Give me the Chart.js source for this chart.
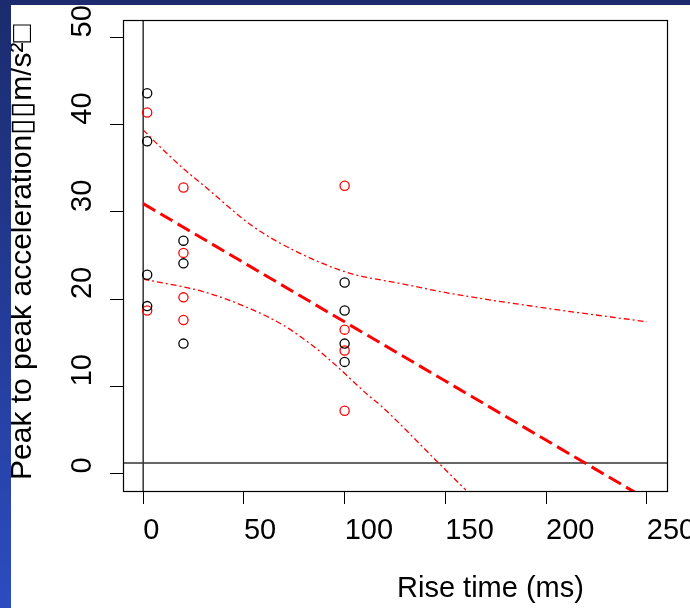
<!DOCTYPE html>
<html lang="en">
<head>
<meta charset="UTF-8">
<title>Rise time vs peak acceleration</title>
<script src="https://cdn.jsdelivr.net/npm/chart.js"></script>
<style>
  html, body { margin: 0; padding: 0; background: #fff; }
  #wrap { position: relative; width: 690px; height: 608px; overflow: hidden; }
  #myChart { position: absolute; left: 0; top: 0; }
  /* slide background showing at the edges */
  #topbar { position: absolute; left: 0; top: 0; width: 690px; height: 5px; background: #1b2b6e; z-index: 2; }
  #leftbar { position: absolute; left: 0; top: 0; width: 11px; height: 608px; background: linear-gradient(#1b2b6e, #2c4cc0); z-index: 2; }
</style>
</head>
<body>
<div id="wrap">
  <canvas id="myChart" width="690" height="608"></canvas>
  <div id="topbar"></div>
  <div id="leftbar"></div>
</div>
<script>
// observations (rise time in ms, peak to peak acceleration)
const blackX = [2, 2, 2, 2, 20, 20, 20, 100, 100, 100, 100];
const blackY = [43.6, 38.1, 22.8, 19.2, 26.7, 24.1, 14.9, 21.9, 18.7, 14.9, 12.8];
const redX = [2, 2, 20, 20, 20, 20, 100, 100, 100, 100];
const redY = [41.4, 18.7, 32.8, 25.3, 20.2, 17.6, 33.0, 16.5, 14.1, 7.2];

// regression line and confidence band
const fitX = [0, 250];
const fitY = [30.95, -2.95];
const upperX = [0, 10.9, 20.8, 30.7, 54.7, 77.9, 102.7, 127.5, 152.3, 197, 250];
const upperY = [39.4, 36.9, 34.8, 32.9, 28.3, 25.25, 22.96, 21.8, 20.66, 19.06, 17.4];
const lowerX = [0, 30.7, 53.1, 69.6, 82.8, 92.8, 112.6, 117.6, 146.5, 160.2];
const lowerY = [22.3, 20.8, 18.9, 17.0, 14.9, 13.0, 8.8, 7.86, 1.24, -1.9];

// reference lines
const hLineY = 1.2;
const vLineX = 0;

// axes
const xTicks = [0, 50, 100, 150, 200, 250];
const yTicks = [0, 10, 20, 30, 40, 50];
const xTitle = 'Rise time (ms)';
const yTitle = 'Peak to peak acceleration\u25AF\u25AFm/s\u00B2\u25A1';

const FONT = "'Liberation Sans', Arial, Helvetica, sans-serif";

function pts(xs, ys) {
  return xs.map((x, i) => ({ x: x, y: ys[i] }));
}

// R style: datasets clipped to the plot box, box, rotated y labels, titles
const rPlot = {
  id: 'rPlot',
  beforeDatasetsDraw(chart) {
    const a = chart.chartArea;
    chart.ctx.save();
    chart.ctx.beginPath();
    chart.ctx.rect(a.left, a.top, a.right - a.left, a.bottom - a.top);
    chart.ctx.clip();
  },
  afterDatasetsDraw(chart) {
    chart.ctx.restore();
  },
  afterDraw(chart) {
    const c = chart.ctx;
    const a = chart.chartArea;
    const ys = chart.scales.y;
    c.save();
    c.strokeStyle = '#000';
    c.lineWidth = 1.2;
    c.strokeRect(Math.round(a.left) + 0.5, Math.round(a.top) + 0.5, Math.round(a.right - a.left), Math.round(a.bottom - a.top));

    c.fillStyle = '#000';
    c.font = '29px ' + FONT;
    c.textAlign = 'left';
    c.textBaseline = 'alphabetic';
    yTicks.forEach(v => {
      c.save();
      c.translate(91, ys.getPixelForValue(v));
      c.rotate(-Math.PI / 2);
      c.fillText(String(v), 0, 0);
      c.restore();
    });

    c.save();
    c.font = '30px ' + FONT;
    c.translate(31, 480);
    c.rotate(-Math.PI / 2);
    c.fillText(yTitle, 0, 0);
    c.restore();

    c.font = '29px ' + FONT;
    c.fillText(xTitle, (a.left + a.right) / 2 + 2, 597);
    c.restore();
  }
};

const config = {
  type: 'scatter',
  data: {
    datasets: [
      {
        label: 'black',
        data: pts(blackX, blackY),
        pointStyle: 'circle',
        pointRadius: 4.6,
        borderWidth: 1.3,
        borderColor: '#000',
        backgroundColor: 'rgba(0,0,0,0)'
      },
      {
        label: 'red',
        data: pts(redX, redY),
        pointStyle: 'circle',
        pointRadius: 4.6,
        borderWidth: 1.3,
        borderColor: '#ff0000',
        backgroundColor: 'rgba(0,0,0,0)'
      },
      {
        label: 'fit',
        data: pts(fitX, fitY),
        showLine: true,
        pointRadius: 0,
        borderColor: '#ff0000',
        borderWidth: 3,
        borderDash: [14, 6]
      },
      {
        label: 'upper',
        data: pts(upperX, upperY),
        showLine: true,
        pointRadius: 0,
        cubicInterpolationMode: 'monotone',
        borderColor: '#ff0000',
        borderWidth: 1.3,
        borderDash: [6, 3, 2, 3]
      },
      {
        label: 'lower',
        data: pts(lowerX, lowerY),
        showLine: true,
        pointRadius: 0,
        cubicInterpolationMode: 'monotone',
        borderColor: '#ff0000',
        borderWidth: 1.3,
        borderDash: [6, 3, 2, 3]
      },
      {
        label: 'h',
        data: [{ x: -10, y: hLineY }, { x: 260, y: hLineY }],
        showLine: true,
        pointRadius: 0,
        borderColor: '#333',
        borderWidth: 1.5
      },
      {
        label: 'v',
        data: [{ x: vLineX, y: -2 }, { x: vLineX, y: 52 }],
        showLine: true,
        pointRadius: 0,
        borderColor: '#000',
        borderWidth: 1.2
      }
    ]
  },
  options: {
    responsive: false,
    animation: false,
    layout: { padding: { left: 0, top: 20, right: 23, bottom: 0 } },
    plugins: {
      legend: { display: false },
      tooltip: { enabled: false }
    },
    scales: {
      x: {
        type: 'linear',
        min: -10,
        max: 260,
        afterBuildTicks: s => { s.ticks = xTicks.map(v => ({ value: v })); },
        afterFit: s => { s.height = 117; s.paddingLeft = 0; s.paddingRight = 0; },
        grid: { drawOnChartArea: false, drawTicks: true, tickLength: 13, color: '#000' },
        border: { display: true, color: '#000', width: 1 },
        ticks: {
          align: 'start',
          autoSkip: false,
          maxRotation: 0,
          padding: 10,
          color: '#000',
          font: { family: FONT, size: 29 }
        }
      },
      y: {
        type: 'linear',
        min: -2,
        max: 52,
        afterBuildTicks: s => { s.ticks = yTicks.map(v => ({ value: v })); },
        afterFit: s => { s.width = 123; s.paddingTop = 0; s.paddingBottom = 0; },
        grid: { drawOnChartArea: false, drawTicks: true, tickLength: 13, color: '#000' },
        border: { display: true, color: '#000', width: 1 },
        ticks: { display: false }
      }
    }
  },
  plugins: [rPlot]
};

new Chart(document.getElementById('myChart'), config);
</script>
</body>
</html>
